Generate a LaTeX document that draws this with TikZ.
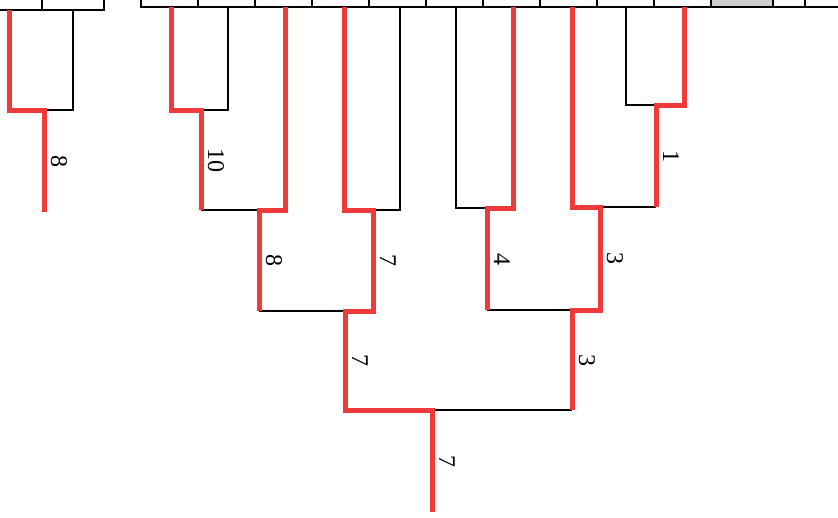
\documentclass[tikz,border=0pt]{standalone}
\usepackage{fontspec}
\setmainfont{Liberation Serif}
\usepackage{tikz}
\definecolor{R}{RGB}{238,58,58}
\definecolor{G}{RGB}{205,205,205}
\newcommand{\drawred}{\draw[R,line width=5pt,line join=miter]}
\newcommand{\drawthin}{\draw[line width=1.4pt]}
\tikzset{val/.style={black,rotate=-90,anchor=south,inner sep=7pt,outer sep=0pt,font=\fontsize{24}{24}\selectfont}}

\begin{document}
\begin{tikzpicture}[x=1pt,y=-1pt]
\useasboundingbox (0,0) rectangle (838,517);
\clip (0,0) rectangle (838,517);
\fill[G] (711,0) rectangle (773,6);
\drawthin (0,10)--(104,10)--(104,0);
    \drawthin (42,0)--(42,10);
    \drawthin (141,0)--(141,7)--(838,7);
    \foreach \x in {198,255,...,711,773,805}{
    \drawthin (\x,0)--(\x,7);
    }
\coordinate (la) at (9,10);\coordinate (lb) at (73,10);
\coordinate (ma) at (44,110);\coordinate (ra) at (44,212);
\coordinate (l1) at (171,7);\coordinate (l2) at (228,7);\coordinate (l3) at (285,7);\coordinate (l4) at (344,7);\coordinate (l5) at (400,7);
\coordinate (l6) at (456,7);\coordinate (l7) at (513,7);\coordinate (l8) at (572,7);\coordinate (l9) at (626,7);\coordinate (l10) at (684,7);
\coordinate (m1) at (201,110);\coordinate (m2) at (259,210);\coordinate (m3) at (373,210);\coordinate (m4) at (345,311);\coordinate (m5) at (487,208);
\coordinate (m6) at (656,105);\coordinate (m7) at (600,207);\coordinate (m8) at (572,310);\coordinate (m9) at (432,410);\coordinate (root) at (432,512);
\drawthin (lb) |- (ma);
    \drawthin (l2) |- (m1);
    \drawthin (m1 |- m2) -- (m2);
    \drawthin (m2 |- m4) -- (m4);
    \drawthin (l5) |- (m3);
    \drawthin (l6) |- (m5);
    \drawthin (m5 |- m8) -- (m8);
    \drawthin (l9) |- (m6);
    \drawthin (m6 |- m7) -- (m7);
    \drawthin (m8 |- m9) -- (m9);
\drawred (la) |- (ma) -- node[val]{8} (ra);
    \drawred (l1) |- (m1) -- node[val]{10} (m1 |- m2);
    \drawred (l3) |- (m2) -- node[val]{8} (m2 |- m4);
    \drawred (l4) |- (m3) -- node[val]{7} (m3 |- m4) -- (m4) -- node[val]{7} (m4 |- m9) -- (m9) -- node[val]{7} (root);
    \drawred (l7) |- (m5) -- node[val]{4} (m5 |- m8);
    \drawred (l10) |- (m6) -- node[val]{1} (m6 |- m7);
    \drawred (l8) |- (m7) -- node[val]{3} (m7 |- m8) -- (m8) -- node[val]{3} (m8 |- m9);
\end{tikzpicture}
\end{document}
